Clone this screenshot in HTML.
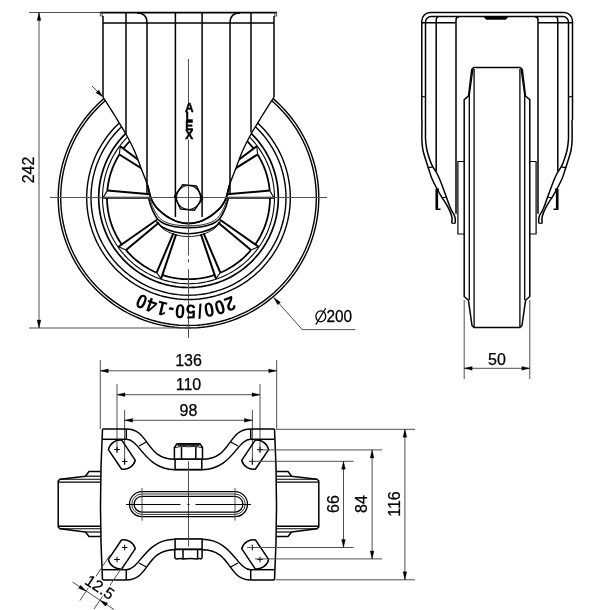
<!DOCTYPE html>
<html><head><meta charset="utf-8"><style>
html,body{margin:0;padding:0;background:#fff;}
svg{display:block;font-family:"Liberation Sans",sans-serif;will-change:transform;}
</style></head><body>
<svg width="600" height="610" viewBox="0 0 600 610">
<rect width="600" height="610" fill="#fff"/>
<defs><mask id="mk" maskUnits="userSpaceOnUse" x="0" y="0" width="600" height="610"><rect x="0" y="0" width="600" height="610" fill="#fff"/><polygon points="103,0 274,0 274,97 262,116 250.5,135 242.5,151 236,168 229.5,185 225.9,198.5 221,207 214.4,213.2 207,218.3 199,221.8 188.5,223.5 178,221.8 170,218.3 162.6,213.2 156,207 151.1,198.5 147.5,185 141,168 134.5,151 126.5,135 115,116 103,97" fill="#000"/></mask></defs>
<g mask="url(#mk)">
<polyline points="318.8,197.7 318.72,202.25 318.48,206.79 318.09,211.32 317.53,215.83 316.82,220.33 315.95,224.79 314.93,229.22 313.75,233.62 312.42,237.96 310.94,242.27 309.31,246.51 307.53,250.7 305.61,254.82 303.55,258.87 301.34,262.85 299,266.75 296.52,270.56 293.91,274.29 291.18,277.92 288.32,281.46 285.33,284.89 282.23,288.21 279.01,291.43 275.69,294.53 272.26,297.52 268.72,300.38 265.09,303.11 261.36,305.72 257.55,308.2 253.65,310.54 249.67,312.75 245.62,314.81 241.5,316.73 237.31,318.51 233.07,320.14 228.76,321.62 224.42,322.95 220.02,324.13 215.59,325.15 211.13,326.02 206.63,326.73 202.12,327.29 197.59,327.68 193.05,327.92 188.5,328 183.95,327.92 179.41,327.68 174.88,327.29 170.37,326.73 165.87,326.02 161.41,325.15 156.98,324.13 152.58,322.95 148.24,321.62 143.93,320.14 139.69,318.51 135.5,316.73 131.38,314.81 127.33,312.75 123.35,310.54 119.45,308.2 115.64,305.72 111.91,303.11 108.28,300.38 104.74,297.52 101.31,294.53 97.99,291.43 94.77,288.21 91.67,284.89 88.68,281.46 85.82,277.92 83.09,274.29 80.48,270.56 78,266.75 75.66,262.85 73.45,258.87 71.39,254.82 69.47,250.7 67.69,246.51 66.06,242.27 64.58,237.96 63.25,233.62 62.07,229.22 61.05,224.79 60.18,220.33 59.47,215.83 58.91,211.32 58.52,206.79 58.28,202.25 58.2,197.7 58.28,193.15 58.52,188.61 58.91,184.08 59.47,179.57 60.18,175.07 61.05,170.61 62.07,166.18 63.25,161.78 64.58,157.44 66.06,153.13 67.69,148.89 69.47,144.7 71.39,140.58 73.45,136.53 75.66,132.55 78,128.65 80.48,124.84 83.09,121.11 85.82,117.48 88.68,113.94 91.67,110.51 94.77,107.19 97.99,103.97 101.31,100.87 104.74,97.88 108.28,95.02 111.91,92.29 115.64,89.68 119.45,87.2 123.35,84.86 127.33,82.65 131.38,80.59 135.5,78.67 139.69,76.89 143.93,75.26 148.24,73.78 152.58,72.45 156.98,71.27 161.41,70.25 165.87,69.38 170.37,68.67 174.88,68.11 179.41,67.72 183.95,67.48 188.5,67.4 193.05,67.48 197.59,67.72 202.12,68.11 206.63,68.67 211.13,69.38 215.59,70.25 220.02,71.27 224.42,72.45 228.76,73.78 233.07,75.26 237.31,76.89 241.5,78.67 245.62,80.59 249.67,82.65 253.65,84.86 257.55,87.2 261.36,89.68 265.09,92.29 268.72,95.02 272.26,97.88 275.69,100.87 279.01,103.97 282.23,107.19 285.33,110.51 288.32,113.94 291.18,117.48 293.91,121.11 296.52,124.84 299,128.65 301.34,132.55 303.55,136.53 305.61,140.58 307.53,144.7 309.31,148.89 310.94,153.13 312.42,157.44 313.75,161.78 314.93,166.18 315.95,170.61 316.82,175.07 317.53,179.57 318.09,184.08 318.48,188.61 318.72,193.15 318.8,197.7" fill="none" stroke="#000" stroke-width="1.4" stroke-linejoin="round" />
<polyline points="316.3,197.7 316.22,202.16 315.99,206.61 315.6,211.06 315.06,215.49 314.36,219.89 313.51,224.27 312.5,228.62 311.35,232.93 310.05,237.19 308.59,241.41 306.99,245.57 305.25,249.68 303.37,253.72 301.34,257.7 299.18,261.6 296.88,265.42 294.45,269.16 291.89,272.82 289.21,276.38 286.4,279.85 283.47,283.21 280.43,286.48 277.28,289.63 274.01,292.67 270.65,295.6 267.18,298.41 263.62,301.09 259.96,303.65 256.22,306.08 252.4,308.38 248.5,310.54 244.52,312.57 240.48,314.45 236.37,316.19 232.21,317.79 227.99,319.25 223.73,320.55 219.42,321.7 215.07,322.71 210.69,323.56 206.29,324.26 201.86,324.8 197.41,325.19 192.96,325.42 188.5,325.5 184.04,325.42 179.59,325.19 175.14,324.8 170.71,324.26 166.31,323.56 161.93,322.71 157.58,321.7 153.27,320.55 149.01,319.25 144.79,317.79 140.63,316.19 136.52,314.45 132.48,312.57 128.5,310.54 124.6,308.38 120.78,306.08 117.04,303.65 113.38,301.09 109.82,298.41 106.35,295.6 102.99,292.67 99.72,289.63 96.57,286.48 93.53,283.21 90.6,279.85 87.79,276.38 85.11,272.82 82.55,269.16 80.12,265.42 77.82,261.6 75.66,257.7 73.63,253.72 71.75,249.68 70.01,245.57 68.41,241.41 66.95,237.19 65.65,232.93 64.5,228.62 63.49,224.27 62.64,219.89 61.94,215.49 61.4,211.06 61.01,206.61 60.78,202.16 60.7,197.7 60.78,193.24 61.01,188.79 61.4,184.34 61.94,179.91 62.64,175.51 63.49,171.13 64.5,166.78 65.65,162.47 66.95,158.21 68.41,153.99 70.01,149.83 71.75,145.72 73.63,141.68 75.66,137.7 77.82,133.8 80.12,129.98 82.55,126.24 85.11,122.58 87.79,119.02 90.6,115.55 93.53,112.19 96.57,108.92 99.72,105.77 102.99,102.73 106.35,99.8 109.82,96.99 113.38,94.31 117.04,91.75 120.78,89.32 124.6,87.02 128.5,84.86 132.48,82.83 136.52,80.95 140.63,79.21 144.79,77.61 149.01,76.15 153.27,74.85 157.58,73.7 161.93,72.69 166.31,71.84 170.71,71.14 175.14,70.6 179.59,70.21 184.04,69.98 188.5,69.9 192.96,69.98 197.41,70.21 201.86,70.6 206.29,71.14 210.69,71.84 215.07,72.69 219.42,73.7 223.73,74.85 227.99,76.15 232.21,77.61 236.37,79.21 240.48,80.95 244.52,82.83 248.5,84.86 252.4,87.02 256.22,89.32 259.96,91.75 263.62,94.31 267.18,96.99 270.65,99.8 274.01,102.73 277.28,105.77 280.43,108.92 283.47,112.19 286.4,115.55 289.21,119.02 291.89,122.58 294.45,126.24 296.88,129.98 299.18,133.8 301.34,137.7 303.37,141.68 305.25,145.72 306.99,149.83 308.59,153.99 310.05,158.21 311.35,162.47 312.5,166.78 313.51,171.13 314.36,175.51 315.06,179.91 315.6,184.34 315.99,188.79 316.22,193.24 316.3,197.7" fill="none" stroke="#000" stroke-width="1.4" stroke-linejoin="round" />
<polyline points="290.3,197.7 290.24,201.25 290.05,204.8 289.74,208.34 289.31,211.87 288.75,215.38 288.08,218.87 287.28,222.33 286.36,225.76 285.32,229.16 284.16,232.52 282.89,235.83 281.5,239.11 280,242.33 278.38,245.49 276.66,248.6 274.83,251.65 272.9,254.63 270.86,257.54 268.72,260.37 266.48,263.14 264.15,265.82 261.73,268.42 259.22,270.93 256.62,273.35 253.94,275.68 251.17,277.92 248.34,280.06 245.43,282.1 242.45,284.03 239.4,285.86 236.29,287.58 233.13,289.2 229.91,290.7 226.63,292.09 223.32,293.36 219.96,294.52 216.56,295.56 213.13,296.48 209.67,297.28 206.18,297.95 202.67,298.51 199.14,298.94 195.6,299.25 192.05,299.44 188.5,299.5 184.95,299.44 181.4,299.25 177.86,298.94 174.33,298.51 170.82,297.95 167.33,297.28 163.87,296.48 160.44,295.56 157.04,294.52 153.68,293.36 150.37,292.09 147.09,290.7 143.87,289.2 140.71,287.58 137.6,285.86 134.55,284.03 131.57,282.1 128.66,280.06 125.83,277.92 123.06,275.68 120.38,273.35 117.78,270.93 115.27,268.42 112.85,265.82 110.52,263.14 108.28,260.37 106.14,257.54 104.1,254.63 102.17,251.65 100.34,248.6 98.62,245.49 97,242.33 95.5,239.11 94.11,235.83 92.84,232.52 91.68,229.16 90.64,225.76 89.72,222.33 88.92,218.87 88.25,215.38 87.69,211.87 87.26,208.34 86.95,204.8 86.76,201.25 86.7,197.7 86.76,194.15 86.95,190.6 87.26,187.06 87.69,183.53 88.25,180.02 88.92,176.53 89.72,173.07 90.64,169.64 91.68,166.24 92.84,162.88 94.11,159.57 95.5,156.29 97,153.07 98.62,149.91 100.34,146.8 102.17,143.75 104.1,140.77 106.14,137.86 108.28,135.03 110.52,132.26 112.85,129.58 115.27,126.98 117.78,124.47 120.38,122.05 123.06,119.72 125.83,117.48 128.66,115.34 131.57,113.3 134.55,111.37 137.6,109.54 140.71,107.82 143.87,106.2 147.09,104.7 150.37,103.31 153.68,102.04 157.04,100.88 160.44,99.84 163.87,98.92 167.33,98.12 170.82,97.45 174.33,96.89 177.86,96.46 181.4,96.15 184.95,95.96 188.5,95.9 192.05,95.96 195.6,96.15 199.14,96.46 202.67,96.89 206.18,97.45 209.67,98.12 213.13,98.92 216.56,99.84 219.96,100.88 223.32,102.04 226.63,103.31 229.91,104.7 233.13,106.2 236.29,107.82 239.4,109.54 242.45,111.37 245.43,113.3 248.34,115.34 251.17,117.48 253.94,119.72 256.62,122.05 259.22,124.47 261.73,126.98 264.15,129.58 266.48,132.26 268.72,135.03 270.86,137.86 272.9,140.77 274.83,143.75 276.66,146.8 278.38,149.91 280,153.07 281.5,156.29 282.89,159.57 284.16,162.88 285.32,166.24 286.36,169.64 287.28,173.07 288.08,176.53 288.75,180.02 289.31,183.53 289.74,187.06 290.05,190.6 290.24,194.15 290.3,197.7" fill="none" stroke="#000" stroke-width="1.4" stroke-linejoin="round" />
<polyline points="286,197.7 285.94,201.1 285.76,204.5 285.47,207.89 285.05,211.27 284.52,214.63 283.87,217.97 283.1,221.29 282.22,224.57 281.23,227.83 280.12,231.05 278.9,234.22 277.57,237.36 276.13,240.44 274.59,243.47 272.94,246.45 271.18,249.37 269.33,252.22 267.38,255.01 265.33,257.73 263.19,260.37 260.96,262.94 258.64,265.43 256.23,267.84 253.74,270.16 251.17,272.39 248.53,274.53 245.81,276.58 243.02,278.53 240.17,280.38 237.25,282.14 234.27,283.79 231.24,285.33 228.16,286.77 225.02,288.1 221.85,289.32 218.63,290.43 215.37,291.42 212.09,292.3 208.77,293.07 205.43,293.72 202.07,294.25 198.69,294.67 195.3,294.96 191.9,295.14 188.5,295.2 185.1,295.14 181.7,294.96 178.31,294.67 174.93,294.25 171.57,293.72 168.23,293.07 164.91,292.3 161.63,291.42 158.37,290.43 155.15,289.32 151.98,288.1 148.84,286.77 145.76,285.33 142.73,283.79 139.75,282.14 136.83,280.38 133.98,278.53 131.19,276.58 128.47,274.53 125.83,272.39 123.26,270.16 120.77,267.84 118.36,265.43 116.04,262.94 113.81,260.37 111.67,257.73 109.62,255.01 107.67,252.22 105.82,249.37 104.06,246.45 102.41,243.47 100.87,240.44 99.43,237.36 98.1,234.22 96.88,231.05 95.77,227.83 94.78,224.57 93.9,221.29 93.13,217.97 92.48,214.63 91.95,211.27 91.53,207.89 91.24,204.5 91.06,201.1 91,197.7 91.06,194.3 91.24,190.9 91.53,187.51 91.95,184.13 92.48,180.77 93.13,177.43 93.9,174.11 94.78,170.83 95.77,167.57 96.88,164.35 98.1,161.18 99.43,158.04 100.87,154.96 102.41,151.93 104.06,148.95 105.82,146.03 107.67,143.18 109.62,140.39 111.67,137.67 113.81,135.03 116.04,132.46 118.36,129.97 120.77,127.56 123.26,125.24 125.83,123.01 128.47,120.87 131.19,118.82 133.98,116.87 136.83,115.02 139.75,113.26 142.73,111.61 145.76,110.07 148.84,108.63 151.98,107.3 155.15,106.08 158.37,104.97 161.63,103.98 164.91,103.1 168.23,102.33 171.57,101.68 174.93,101.15 178.31,100.73 181.7,100.44 185.1,100.26 188.5,100.2 191.9,100.26 195.3,100.44 198.69,100.73 202.07,101.15 205.43,101.68 208.77,102.33 212.09,103.1 215.37,103.98 218.63,104.97 221.85,106.08 225.02,107.3 228.16,108.63 231.24,110.07 234.27,111.61 237.25,113.26 240.17,115.02 243.02,116.87 245.81,118.82 248.53,120.87 251.17,123.01 253.74,125.24 256.23,127.56 258.64,129.97 260.96,132.46 263.19,135.03 265.33,137.67 267.38,140.39 269.33,143.18 271.18,146.03 272.94,148.95 274.59,151.93 276.13,154.96 277.57,158.04 278.9,161.18 280.12,164.35 281.23,167.57 282.22,170.83 283.1,174.11 283.87,177.43 284.52,180.77 285.05,184.13 285.47,187.51 285.76,190.9 285.94,194.3 286,197.7" fill="none" stroke="#000" stroke-width="1.4" stroke-linejoin="round" />
<polyline points="278.3,197.7 278.25,200.83 278.08,203.96 277.81,207.09 277.43,210.2 276.94,213.29 276.34,216.37 275.63,219.42 274.82,222.45 273.9,225.45 272.88,228.41 271.76,231.34 270.54,234.22 269.21,237.07 267.79,239.86 266.27,242.6 264.65,245.29 262.95,247.92 261.15,250.48 259.26,252.99 257.29,255.42 255.23,257.79 253.1,260.08 250.88,262.3 248.59,264.43 246.22,266.49 243.79,268.46 241.28,270.35 238.72,272.15 236.09,273.85 233.4,275.47 230.66,276.99 227.87,278.41 225.02,279.74 222.14,280.96 219.21,282.08 216.25,283.1 213.25,284.02 210.22,284.83 207.17,285.54 204.09,286.14 201,286.63 197.89,287.01 194.76,287.28 191.63,287.45 188.5,287.5 185.37,287.45 182.24,287.28 179.11,287.01 176,286.63 172.91,286.14 169.83,285.54 166.78,284.83 163.75,284.02 160.75,283.1 157.79,282.08 154.86,280.96 151.98,279.74 149.13,278.41 146.34,276.99 143.6,275.47 140.91,273.85 138.28,272.15 135.72,270.35 133.21,268.46 130.78,266.49 128.41,264.43 126.12,262.3 123.9,260.08 121.77,257.79 119.71,255.42 117.74,252.99 115.85,250.48 114.05,247.92 112.35,245.29 110.73,242.6 109.21,239.86 107.79,237.07 106.46,234.22 105.24,231.34 104.12,228.41 103.1,225.45 102.18,222.45 101.37,219.42 100.66,216.37 100.06,213.29 99.57,210.2 99.19,207.09 98.92,203.96 98.75,200.83 98.7,197.7 98.75,194.57 98.92,191.44 99.19,188.31 99.57,185.2 100.06,182.11 100.66,179.03 101.37,175.98 102.18,172.95 103.1,169.95 104.12,166.99 105.24,164.06 106.46,161.18 107.79,158.33 109.21,155.54 110.73,152.8 112.35,150.11 114.05,147.48 115.85,144.92 117.74,142.41 119.71,139.98 121.77,137.61 123.9,135.32 126.12,133.1 128.41,130.97 130.78,128.91 133.21,126.94 135.72,125.05 138.28,123.25 140.91,121.55 143.6,119.93 146.34,118.41 149.13,116.99 151.98,115.66 154.86,114.44 157.79,113.32 160.75,112.3 163.75,111.38 166.78,110.57 169.83,109.86 172.91,109.26 176,108.77 179.11,108.39 182.24,108.12 185.37,107.95 188.5,107.9 191.63,107.95 194.76,108.12 197.89,108.39 201,108.77 204.09,109.26 207.17,109.86 210.22,110.57 213.25,111.38 216.25,112.3 219.21,113.32 222.14,114.44 225.02,115.66 227.87,116.99 230.66,118.41 233.4,119.93 236.09,121.55 238.72,123.25 241.28,125.05 243.79,126.94 246.22,128.91 248.59,130.97 250.88,133.1 253.1,135.32 255.23,137.61 257.29,139.98 259.26,142.41 261.15,144.92 262.95,147.48 264.65,150.11 266.27,152.8 267.79,155.54 269.21,158.33 270.54,161.18 271.76,164.06 272.88,166.99 273.9,169.95 274.82,172.95 275.63,175.98 276.34,179.03 276.94,182.11 277.43,185.2 277.81,188.31 278.08,191.44 278.25,194.57 278.3,197.7" fill="none" stroke="#000" stroke-width="1.7" stroke-linejoin="round" />
<polyline points="274.5,197.7 274.45,200.7 274.29,203.7 274.03,206.69 273.66,209.67 273.19,212.63 272.62,215.58 271.95,218.51 271.17,221.4 270.29,224.28 269.31,227.11 268.24,229.92 267.06,232.68 265.8,235.4 264.43,238.07 262.98,240.7 261.43,243.27 259.8,245.79 258.08,248.25 256.27,250.65 254.38,252.98 252.41,255.25 250.36,257.44 248.24,259.56 246.05,261.61 243.78,263.58 241.45,265.47 239.05,267.28 236.59,269 234.07,270.63 231.5,272.18 228.87,273.63 226.2,275 223.48,276.26 220.72,277.44 217.91,278.51 215.08,279.49 212.2,280.37 209.31,281.15 206.38,281.82 203.43,282.39 200.47,282.86 197.49,283.23 194.5,283.49 191.5,283.65 188.5,283.7 185.5,283.65 182.5,283.49 179.51,283.23 176.53,282.86 173.57,282.39 170.62,281.82 167.69,281.15 164.8,280.37 161.92,279.49 159.09,278.51 156.28,277.44 153.52,276.26 150.8,275 148.13,273.63 145.5,272.18 142.93,270.63 140.41,269 137.95,267.28 135.55,265.47 133.22,263.58 130.95,261.61 128.76,259.56 126.64,257.44 124.59,255.25 122.62,252.98 120.73,250.65 118.92,248.25 117.2,245.79 115.57,243.27 114.02,240.7 112.57,238.07 111.2,235.4 109.94,232.68 108.76,229.92 107.69,227.11 106.71,224.28 105.83,221.4 105.05,218.51 104.38,215.58 103.81,212.63 103.34,209.67 102.97,206.69 102.71,203.7 102.55,200.7 102.5,197.7 102.55,194.7 102.71,191.7 102.97,188.71 103.34,185.73 103.81,182.77 104.38,179.82 105.05,176.89 105.83,174 106.71,171.12 107.69,168.29 108.76,165.48 109.94,162.72 111.2,160 112.57,157.33 114.02,154.7 115.57,152.13 117.2,149.61 118.92,147.15 120.73,144.75 122.62,142.42 124.59,140.15 126.64,137.96 128.76,135.84 130.95,133.79 133.22,131.82 135.55,129.93 137.95,128.12 140.41,126.4 142.93,124.77 145.5,123.22 148.13,121.77 150.8,120.4 153.52,119.14 156.28,117.96 159.09,116.89 161.92,115.91 164.8,115.03 167.69,114.25 170.62,113.58 173.57,113.01 176.53,112.54 179.51,112.17 182.5,111.91 185.5,111.75 188.5,111.7 191.5,111.75 194.5,111.91 197.49,112.17 200.47,112.54 203.43,113.01 206.38,113.58 209.31,114.25 212.2,115.03 215.08,115.91 217.91,116.89 220.72,117.96 223.48,119.14 226.2,120.4 228.87,121.77 231.5,123.22 234.07,124.77 236.59,126.4 239.05,128.12 241.45,129.93 243.78,131.82 246.05,133.79 248.24,135.84 250.36,137.96 252.41,140.15 254.38,142.42 256.27,144.75 258.08,147.15 259.8,149.61 261.43,152.13 262.98,154.7 264.43,157.33 265.8,160 267.06,162.72 268.24,165.48 269.31,168.29 270.29,171.12 271.17,174 271.95,176.89 272.62,179.82 273.19,182.77 273.66,185.73 274.03,188.71 274.29,191.7 274.45,194.7 274.5,197.7" fill="none" stroke="#000" stroke-width="1.1" stroke-linejoin="round" />
<line x1="176.16" y1="234.17" x2="161.09" y2="278.69" stroke="#000" stroke-width="2.0" />
<line x1="173.46" y1="233.14" x2="156.66" y2="272.72" stroke="#000" stroke-width="2.0" />
<line x1="161.09" y1="278.69" x2="156.66" y2="272.72" stroke="#000" stroke-width="1.1" />
<line x1="159.01" y1="222.45" x2="126.07" y2="250.09" stroke="#000" stroke-width="2.0" />
<line x1="156.96" y1="219.78" x2="118.46" y2="246.74" stroke="#000" stroke-width="2.0" />
<line x1="126.07" y1="250.09" x2="118.46" y2="246.74" stroke="#000" stroke-width="1.1" />
<line x1="150" y1="197.7" x2="103" y2="197.7" stroke="#000" stroke-width="2.0" />
<line x1="150.15" y1="194.34" x2="107.31" y2="190.6" stroke="#000" stroke-width="2.0" />
<line x1="103" y1="197.7" x2="107.31" y2="190.6" stroke="#000" stroke-width="1.1" />
<line x1="155.85" y1="177.3" x2="119.38" y2="154.51" stroke="#000" stroke-width="2.0" />
<line x1="157.75" y1="174.53" x2="120.22" y2="146.24" stroke="#000" stroke-width="2.0" />
<line x1="119.38" y1="154.51" x2="120.22" y2="146.24" stroke="#000" stroke-width="1.1" />
<line x1="203.54" y1="233.14" x2="220.34" y2="272.72" stroke="#000" stroke-width="2.0" />
<line x1="200.84" y1="234.17" x2="215.91" y2="278.69" stroke="#000" stroke-width="2.0" />
<line x1="220.34" y1="272.72" x2="215.91" y2="278.69" stroke="#000" stroke-width="1.1" />
<line x1="220.04" y1="219.78" x2="258.54" y2="246.74" stroke="#000" stroke-width="2.0" />
<line x1="217.99" y1="222.45" x2="250.93" y2="250.09" stroke="#000" stroke-width="2.0" />
<line x1="258.54" y1="246.74" x2="250.93" y2="250.09" stroke="#000" stroke-width="1.1" />
<line x1="226.85" y1="194.34" x2="269.69" y2="190.6" stroke="#000" stroke-width="2.0" />
<line x1="227" y1="197.7" x2="274" y2="197.7" stroke="#000" stroke-width="2.0" />
<line x1="269.69" y1="190.6" x2="274" y2="197.7" stroke="#000" stroke-width="1.1" />
<line x1="219.25" y1="174.53" x2="256.78" y2="146.24" stroke="#000" stroke-width="2.0" />
<line x1="221.15" y1="177.3" x2="257.62" y2="154.51" stroke="#000" stroke-width="2.0" />
<line x1="256.78" y1="146.24" x2="257.62" y2="154.51" stroke="#000" stroke-width="1.1" />
<polyline points="257.62,154.51 259.14,157.04 260.56,159.63 261.9,162.27 263.13,164.95 264.27,167.68 265.31,170.44 266.24,173.24 267.08,176.08 267.81,178.94 268.44,181.83 268.96,184.73 269.38,187.66 269.69,190.6" fill="none" stroke="#000" stroke-width="1.8" stroke-linejoin="round" />
<polyline points="270,197.7 269.95,200.63 269.79,203.55 269.53,206.47 269.16,209.37 268.69,212.26 268.11,215.14 267.44,217.98 266.66,220.81 265.78,223.6 264.79,226.36 263.72,229.08 262.54,231.76 261.27,234.4 259.9,236.99 258.45,239.53 256.9,242.02 255.26,244.45" fill="none" stroke="#000" stroke-width="1.8" stroke-linejoin="round" />
<polyline points="250.93,250.09 248.99,252.32 246.97,254.47 244.88,256.55 242.71,258.56 240.47,260.48 238.16,262.32 235.78,264.08 233.35,265.75 230.85,267.33 228.3,268.82 225.7,270.22 223.04,271.52 220.34,272.72" fill="none" stroke="#000" stroke-width="1.8" stroke-linejoin="round" />
<polyline points="214.63,274.9 211.81,275.79 208.97,276.59 206.09,277.28 203.2,277.86 200.28,278.34 197.35,278.72 194.41,278.99 191.45,279.15 188.5,279.2 185.55,279.15 182.59,278.99 179.65,278.72 176.72,278.34 173.8,277.86 170.91,277.28 168.03,276.59 165.19,275.79 162.37,274.9" fill="none" stroke="#000" stroke-width="1.8" stroke-linejoin="round" />
<polyline points="156.66,272.72 153.96,271.52 151.3,270.22 148.7,268.82 146.15,267.33 143.65,265.75 141.22,264.08 138.84,262.32 136.53,260.48 134.29,258.56 132.12,256.55 130.03,254.47 128.01,252.32 126.07,250.09" fill="none" stroke="#000" stroke-width="1.8" stroke-linejoin="round" />
<polyline points="121.74,244.45 120.1,242.02 118.55,239.53 117.1,236.99 115.73,234.4 114.46,231.76 113.28,229.08 112.21,226.36 111.22,223.6 110.34,220.81 109.56,217.98 108.89,215.14 108.31,212.26 107.84,209.37 107.47,206.47 107.21,203.55 107.05,200.63 107,197.7" fill="none" stroke="#000" stroke-width="1.8" stroke-linejoin="round" />
<polyline points="107.31,190.6 107.62,187.66 108.04,184.73 108.56,181.83 109.19,178.94 109.92,176.08 110.76,173.24 111.69,170.44 112.73,167.68 113.87,164.95 115.1,162.27 116.44,159.63 117.86,157.04 119.38,154.51" fill="none" stroke="#000" stroke-width="1.8" stroke-linejoin="round" />
<polyline points="123.41,148.65 125.16,146.41 126.99,144.23 128.89,142.12 130.87,140.07 132.92,138.09 135.03,136.19 137.21,134.36 139.45,132.61 141.75,130.94 144.11,129.35 146.52,127.84 148.99,126.42 151.5,125.08 154.06,123.84 156.66,122.68 159.29,121.61 161.97,120.64 164.67,119.76 167.41,118.98 170.17,118.29 172.95,117.7 175.75,117.2 178.57,116.81 181.4,116.51 184.23,116.31 187.08,116.21 189.92,116.21 192.77,116.31 195.6,116.51 198.43,116.81 201.25,117.2 204.05,117.7 206.83,118.29 209.59,118.98 212.33,119.76 215.03,120.64 217.71,121.61 220.34,122.68 222.94,123.84 225.5,125.08 228.01,126.42 230.48,127.84 232.89,129.35 235.25,130.94 237.55,132.61 239.79,134.36 241.97,136.19 244.08,138.09 246.13,140.07 248.11,142.12 250.01,144.23 251.84,146.41 253.59,148.65" fill="none" stroke="#000" stroke-width="1.8" stroke-linejoin="round" />
</g>
<path d="M103,97 C105,100.17 111.08,109.67 115,116 C118.92,122.33 123.25,129.17 126.5,135 C129.75,140.83 132.08,145.5 134.5,151 C136.92,156.5 138.83,162.33 141,168 C143.17,173.67 145.82,179.92 147.5,185 C149.18,190.08 149.68,194.83 151.1,198.5 C152.52,202.17 154.08,204.55 156,207 C157.92,209.45 160.27,211.32 162.6,213.2 C164.93,215.08 167.43,216.87 170,218.3 C172.57,219.73 174.92,220.93 178,221.8 C181.08,222.67 185,223.5 188.5,223.5 C192,223.5 195.92,222.67 199,221.8 C202.08,220.93 204.43,219.73 207,218.3 C209.57,216.87 212.07,215.08 214.4,213.2 C216.73,211.32 219.08,209.45 221,207 C222.92,204.55 224.48,202.17 225.9,198.5 C227.32,194.83 227.82,190.08 229.5,185 C231.18,179.92 233.83,173.67 236,168 C238.17,162.33 240.08,156.5 242.5,151 C244.92,145.5 247.25,140.83 250.5,135 C253.75,129.17 258.08,122.33 262,116 C265.92,109.67 272,100.17 274,97" fill="none" stroke="#000" stroke-width="1.35" stroke-linejoin="round" />
<path d="M147.5,185 C148.1,187.25 149.68,194.83 151.1,198.5 C152.52,202.17 154.08,204.55 156,207 C157.92,209.45 160.27,211.32 162.6,213.2 C164.93,215.08 167.43,216.87 170,218.3 C172.57,219.73 174.92,220.93 178,221.8 C181.08,222.67 185,223.5 188.5,223.5 C192,223.5 195.92,222.67 199,221.8 C202.08,220.93 204.43,219.73 207,218.3 C209.57,216.87 212.07,215.08 214.4,213.2 C216.73,211.32 219.08,209.45 221,207 C222.92,204.55 224.48,202.17 225.9,198.5 C227.32,194.83 228.9,187.25 229.5,185" fill="none" stroke="#000" stroke-width="1.8" stroke-linejoin="round" />
<path d="M148.7,198.5 C149.1,199.87 150.15,204.12 151.1,206.7 C152.05,209.28 153.25,211.87 154.4,214 C155.55,216.13 156.23,217.83 158,219.5 C159.77,221.17 162.17,222.8 165,224 C167.83,225.2 171.08,226.1 175,226.7 C178.92,227.3 184,227.6 188.5,227.6 C193,227.6 198.08,227.3 202,226.7 C205.92,226.1 209.17,225.2 212,224 C214.83,222.8 217.23,221.17 219,219.5 C220.77,217.83 221.45,216.13 222.6,214 C223.75,211.87 224.95,209.28 225.9,206.7 C226.85,204.12 227.9,199.87 228.3,198.5" fill="none" stroke="#000" stroke-width="1.6" stroke-linejoin="round" />
<path d="M150.2,199.5 C150.6,200.67 151.65,204.25 152.6,206.5 C153.55,208.75 154.75,211.08 155.9,213 C157.05,214.92 157.82,216.45 159.5,218 C161.18,219.55 163.25,221.13 166,222.3 C168.75,223.47 172.25,224.42 176,225 C179.75,225.58 184.33,225.8 188.5,225.8 C192.67,225.8 197.25,225.58 201,225 C204.75,224.42 208.25,223.47 211,222.3 C213.75,221.13 215.82,219.55 217.5,218 C219.18,216.45 219.95,214.92 221.1,213 C222.25,211.08 223.45,208.75 224.4,206.5 C225.35,204.25 226.4,200.67 226.8,199.5" fill="none" stroke="#000" stroke-width="0.8" stroke-linejoin="round" />
<path d="M156.5,221.5 C157.58,222.5 159.92,225.75 163,227.5 C166.08,229.25 170.75,230.97 175,232 C179.25,233.03 184,233.7 188.5,233.7 C193,233.7 197.75,233.03 202,232 C206.25,230.97 210.92,229.25 214,227.5 C217.08,225.75 219.42,222.5 220.5,221.5" fill="none" stroke="#000" stroke-width="1.6" stroke-linejoin="round" />
<path d="M158.5,224.5 C159.58,225.45 162.08,228.47 165,230.2 C167.92,231.93 172.08,233.83 176,234.9 C179.92,235.97 184.33,236.6 188.5,236.6 C192.67,236.6 197.08,235.97 201,234.9 C204.92,233.83 209.08,231.93 212,230.2 C214.92,228.47 217.42,225.45 218.5,224.5" fill="none" stroke="#000" stroke-width="0.9" stroke-linejoin="round" />
<line x1="100" y1="12.6" x2="277" y2="12.6" stroke="#000" stroke-width="1.6" />
<polyline points="100.3,12.6 100.3,16 102.3,16 102.3,12.6" fill="none" stroke="#505050" stroke-width="1" stroke-linejoin="round" />
<polyline points="276.7,12.6 276.7,16 274.7,16 274.7,12.6" fill="none" stroke="#505050" stroke-width="1" stroke-linejoin="round" />
<line x1="103" y1="16" x2="103" y2="97" stroke="#000" stroke-width="1.5" />
<line x1="274" y1="16" x2="274" y2="97" stroke="#000" stroke-width="1.5" />
<line x1="103" y1="23" x2="274" y2="23" stroke="#000" stroke-width="1.5" />
<line x1="126" y1="13" x2="126" y2="134" stroke="#000" stroke-width="1.5" />
<line x1="251" y1="13" x2="251" y2="132.5" stroke="#000" stroke-width="1.5" />
<path d="M137,13 Q147,13 147,23 L147,193" fill="none" stroke="#000" stroke-width="1.5" stroke-linejoin="round" />
<path d="M240,13 Q230,13 230,23 L230,193" fill="none" stroke="#000" stroke-width="1.5" stroke-linejoin="round" />
<line x1="175.4" y1="13" x2="175.4" y2="217" stroke="#000" stroke-width="1.5" />
<line x1="202.1" y1="13" x2="202.1" y2="217" stroke="#000" stroke-width="1.5" />
<line x1="92" y1="86" x2="103" y2="97" stroke="#505050" stroke-width="1.0" />
<polygon points="103,97 95.93,92.76 98.76,89.93" fill="#000" stroke="#000" stroke-width="0.3" stroke-linejoin="round" />
<line x1="50" y1="197.5" x2="327" y2="197.5" stroke="#505050" stroke-width="1.0" />
<line x1="188.5" y1="59" x2="188.5" y2="103" stroke="#505050" stroke-width="1.0" />
<line x1="188.5" y1="139.5" x2="188.5" y2="255.5" stroke="#505050" stroke-width="1.0" />
<line x1="188.5" y1="259" x2="188.5" y2="262.5" stroke="#505050" stroke-width="1.0" />
<line x1="188.5" y1="269.3" x2="188.5" y2="338" stroke="#505050" stroke-width="1.0" />
<polygon points="202.45,198.72 194.42,210.19 180.47,208.97 174.55,196.28 182.58,184.81 196.53,186.03" fill="none" stroke="#000" stroke-width="1.5" stroke-linejoin="round" />
<circle cx="188.5" cy="197.5" r="12" fill="none" stroke="#000" stroke-width="1.1"/>
<text x="0" y="0" font-size="12.5" font-weight="bold" text-anchor="middle" stroke="#000" stroke-width="0.5" transform="translate(189.2,112.4) scale(0.95,1)">A</text>
<text x="0" y="0" font-size="12.5" font-weight="bold" text-anchor="middle" stroke="#000" stroke-width="0.5" transform="translate(189.2,121.4) scale(0.95,1)">L</text>
<text x="0" y="0" font-size="12.5" font-weight="bold" text-anchor="middle" stroke="#000" stroke-width="0.5" transform="translate(189.2,130.4) scale(0.95,1)">E</text>
<text x="0" y="0" font-size="12.5" font-weight="bold" text-anchor="middle" stroke="#000" stroke-width="0.5" transform="translate(189.2,139.4) scale(0.95,1)">X</text>
<line x1="29" y1="12.5" x2="100" y2="12.5" stroke="#505050" stroke-width="1.0" />
<line x1="29" y1="328" x2="190" y2="328" stroke="#505050" stroke-width="1.0" />
<line x1="39" y1="12.5" x2="39" y2="328" stroke="#505050" stroke-width="1.0" />
<polygon points="39,12.5 40.9,20.5 37.1,20.5" fill="#000" stroke="#000" stroke-width="0.3" stroke-linejoin="round" />
<polygon points="39,328 37.1,320 40.9,320" fill="#000" stroke="#000" stroke-width="0.3" stroke-linejoin="round" />
<text x="0" y="0" font-size="16" text-anchor="middle" font-weight="normal" stroke="#000" stroke-width="0.25" transform="translate(34.3,170) rotate(-90) scale(1,1)" >242</text>
<polyline points="273.75,297.5 302.2,329.6 355.3,329.6" fill="none" stroke="#505050" stroke-width="1.0" stroke-linejoin="round" />
<polygon points="273.75,297.5 280.48,302.23 277.63,304.75" fill="#000" stroke="#000" stroke-width="0.3" stroke-linejoin="round" />
<ellipse cx="320.8" cy="316.3" rx="4.9" ry="5.5" fill="none" stroke="#000" stroke-width="1.3"/>
<line x1="315.8" y1="324.6" x2="325.6" y2="308.3" stroke="#000" stroke-width="1.2" />
<text x="0" y="0" font-size="16" text-anchor="start" font-weight="normal" stroke="#000" stroke-width="0.25" transform="translate(326.5,322.1) rotate(0) scale(0.96,1)" >200</text>
<text x="0" y="0" font-size="20" font-weight="bold" text-anchor="middle" transform="translate(227.48,297.35) rotate(158.64) scale(0.9,1)">2</text>
<text x="0" y="0" font-size="20" font-weight="bold" text-anchor="middle" transform="translate(217.82,300.6) rotate(164.1) scale(0.9,1)">0</text>
<text x="0" y="0" font-size="20" font-weight="bold" text-anchor="middle" transform="translate(207.89,302.93) rotate(169.56) scale(0.9,1)">0</text>
<text x="0" y="0" font-size="20" font-weight="bold" text-anchor="middle" transform="translate(199.38,304.15) rotate(174.16) scale(0.9,1)">/</text>
<text x="0" y="0" font-size="20" font-weight="bold" text-anchor="middle" transform="translate(190.8,304.68) rotate(178.77) scale(0.9,1)">5</text>
<text x="0" y="0" font-size="20" font-weight="bold" text-anchor="middle" transform="translate(180.61,304.41) rotate(184.23) scale(0.9,1)">0</text>
<text x="0" y="0" font-size="20" font-weight="bold" text-anchor="middle" transform="translate(172.06,303.43) rotate(188.84) scale(0.9,1)">-</text>
<text x="0" y="0" font-size="20" font-weight="bold" text-anchor="middle" transform="translate(163.63,301.77) rotate(193.44) scale(0.9,1)">1</text>
<text x="0" y="0" font-size="20" font-weight="bold" text-anchor="middle" transform="translate(153.84,298.93) rotate(198.9) scale(0.9,1)">4</text>
<text x="0" y="0" font-size="20" font-weight="bold" text-anchor="middle" transform="translate(144.36,295.17) rotate(204.36) scale(0.9,1)">0</text>
<path d="M421.8,120 L421.8,21 A8.5,8.5 0 0 1 430.3,12.5 L564,12.5 A8.5,8.5 0 0 1 572.5,21 L572.5,120" fill="none" stroke="#000" stroke-width="1.5" stroke-linejoin="round" />
<path d="M425.5,96.7 L425.5,22 A5.5,5.5 0 0 1 431,16.6 L563,16.6 A5.5,5.5 0 0 1 568.5,22 L568.5,96.7" fill="none" stroke="#000" stroke-width="1.5" stroke-linejoin="round" />
<path d="M422,120 C421.98,123.33 421.75,135 421.9,140 C422.05,145 422.25,146.67 422.9,150 C423.55,153.33 424.82,156.75 425.8,160 C426.78,163.25 427.72,166.25 428.8,169.5 C429.88,172.75 430.47,175.45 432.3,179.5 C434.13,183.55 437.23,189.28 439.8,193.8 C442.37,198.32 445.7,202.82 447.7,206.6 C449.7,210.38 451.12,213.72 451.8,216.5 C452.48,219.28 451.8,222.17 451.8,223.3" fill="none" stroke="#000" stroke-width="1.5" stroke-linejoin="round" />
<path d="M572,120 C572.02,123.33 572.25,135 572.1,140 C571.95,145 571.75,146.67 571.1,150 C570.45,153.33 569.18,156.75 568.2,160 C567.22,163.25 566.28,166.25 565.2,169.5 C564.12,172.75 563.53,175.45 561.7,179.5 C559.87,183.55 556.77,189.28 554.2,193.8 C551.63,198.32 548.3,202.82 546.3,206.6 C544.3,210.38 542.88,213.72 542.2,216.5 C541.52,219.28 542.2,222.17 542.2,223.3" fill="none" stroke="#000" stroke-width="1.5" stroke-linejoin="round" />
<path d="M425.5,96.7 C425.5,102.25 425.48,122.78 425.5,130 C425.52,137.22 425.37,136.67 425.6,140 C425.83,143.33 426.2,146.72 426.9,150 C427.6,153.28 428.83,156.93 429.8,159.7 C430.77,162.47 431.58,164.47 432.7,166.6 C433.82,168.73 435.25,170.18 436.5,172.5 C437.75,174.82 438.82,177.12 440.2,180.5 C441.58,183.88 443.07,188.13 444.8,192.8 C446.53,197.47 448.93,204.57 450.6,208.5 C452.27,212.43 454.02,213.93 454.8,216.4 C455.58,218.87 455.22,222.15 455.3,223.3" fill="none" stroke="#000" stroke-width="1.5" stroke-linejoin="round" />
<path d="M568.5,96.7 C568.5,102.25 568.52,122.78 568.5,130 C568.48,137.22 568.63,136.67 568.4,140 C568.17,143.33 567.8,146.72 567.1,150 C566.4,153.28 565.17,156.93 564.2,159.7 C563.23,162.47 562.42,164.47 561.3,166.6 C560.18,168.73 558.75,170.18 557.5,172.5 C556.25,174.82 555.18,177.12 553.8,180.5 C552.42,183.88 550.93,188.13 549.2,192.8 C547.47,197.47 545.07,204.57 543.4,208.5 C541.73,212.43 539.98,213.93 539.2,216.4 C538.42,218.87 538.78,222.15 538.7,223.3" fill="none" stroke="#000" stroke-width="1.5" stroke-linejoin="round" />
<line x1="422" y1="96.7" x2="425.5" y2="96.7" stroke="#000" stroke-width="1.1" />
<line x1="572" y1="96.7" x2="568.5" y2="96.7" stroke="#000" stroke-width="1.1" />
<line x1="427.8" y1="167.6" x2="432.4" y2="167.1" stroke="#000" stroke-width="1.1" />
<line x1="566.2" y1="167.6" x2="561.6" y2="167.1" stroke="#000" stroke-width="1.1" />
<line x1="441.5" y1="197.7" x2="446.4" y2="197.2" stroke="#000" stroke-width="1.1" />
<line x1="552.5" y1="197.7" x2="547.6" y2="197.2" stroke="#000" stroke-width="1.1" />
<line x1="451.8" y1="223.3" x2="455.3" y2="223.3" stroke="#000" stroke-width="1.1" />
<line x1="542.2" y1="223.3" x2="538.7" y2="223.3" stroke="#000" stroke-width="1.1" />
<path d="M436.2,171 L436.2,21 Q436.2,16.6 438.5,16.6" fill="none" stroke="#000" stroke-width="1.5" stroke-linejoin="round" />
<path d="M557.8,171 L557.8,21 Q557.8,16.6 555.5,16.6" fill="none" stroke="#000" stroke-width="1.5" stroke-linejoin="round" />
<line x1="421.8" y1="22.7" x2="456" y2="22.7" stroke="#000" stroke-width="1.5" />
<line x1="538" y1="22.7" x2="572.5" y2="22.7" stroke="#000" stroke-width="1.5" />
<path d="M456,213.8 L456,20 Q456,16.7 459,16.7" fill="none" stroke="#000" stroke-width="1.5" stroke-linejoin="round" />
<path d="M538,213.8 L538,20 Q538,16.7 535,16.7" fill="none" stroke="#000" stroke-width="1.5" stroke-linejoin="round" />
<polygon points="484,16.6 486,19.3 506,19.3 508,16.6" fill="#000" stroke="#000" stroke-width="0.8" stroke-linejoin="round" />
<polyline points="439,189.3 436.2,189.3 436.2,209.2 440.5,209.2" fill="none" stroke="#000" stroke-width="1.5" stroke-linejoin="round" />
<line x1="437.4" y1="189.8" x2="437.4" y2="208.7" stroke="#000" stroke-width="1.4" />
<polyline points="555,189.3 557.8,189.3 557.8,209.2 553.5,209.2" fill="none" stroke="#000" stroke-width="1.5" stroke-linejoin="round" />
<line x1="556.6" y1="189.8" x2="556.6" y2="208.7" stroke="#000" stroke-width="1.4" />
<polyline points="464.2,234 457.9,234 457.9,161.5 463.8,161.5" fill="none" stroke="#000" stroke-width="1.2" stroke-linejoin="round" />
<polyline points="529.8,234 536.1,234 536.1,161.5 530.2,161.5" fill="none" stroke="#000" stroke-width="1.2" stroke-linejoin="round" />
<polygon points="464.2,296.5 464.2,99.6 468.5,96 471.7,69.5 473.7,67.5 520.3,67.5 522.3,69.5 525.5,96 529.8,99.6 529.8,296.5 525.6,300.2 522,325.5 520,327.5 474,327.5 472,325.5 468.4,300.2 464.2,296.5" fill="none" stroke="#000" stroke-width="1.5" stroke-linejoin="round" />
<polyline points="473,68.5 469.3,95 469.3,300" fill="none" stroke="#000" stroke-width="1.3" stroke-linejoin="round" />
<line x1="474.1" y1="69" x2="474.1" y2="327" stroke="#000" stroke-width="1.3" />
<polyline points="521,68.5 524.7,95 524.7,300" fill="none" stroke="#000" stroke-width="1.3" stroke-linejoin="round" />
<line x1="519.9" y1="69" x2="519.9" y2="327" stroke="#000" stroke-width="1.3" />
<line x1="464.2" y1="300" x2="464.2" y2="379" stroke="#505050" stroke-width="1.0" />
<line x1="529.8" y1="300" x2="529.8" y2="379" stroke="#505050" stroke-width="1.0" />
<line x1="464.2" y1="368.3" x2="529.8" y2="368.3" stroke="#505050" stroke-width="1.0" />
<polygon points="464.2,368.3 472.2,366.4 472.2,370.2" fill="#000" stroke="#000" stroke-width="0.3" stroke-linejoin="round" />
<polygon points="529.8,368.3 521.8,370.2 521.8,366.4" fill="#000" stroke="#000" stroke-width="0.3" stroke-linejoin="round" />
<text x="0" y="0" font-size="16" text-anchor="middle" font-weight="normal" stroke="#000" stroke-width="0.25" transform="translate(497,364.5) rotate(0) scale(1.0,1)" >50</text>
<line x1="100.3" y1="360" x2="100.3" y2="429" stroke="#505050" stroke-width="1.0" />
<line x1="276.7" y1="360" x2="276.7" y2="429" stroke="#505050" stroke-width="1.0" />
<line x1="117" y1="384" x2="117" y2="453" stroke="#505050" stroke-width="1.0" />
<line x1="260" y1="384" x2="260" y2="453" stroke="#505050" stroke-width="1.0" />
<line x1="124.6" y1="410" x2="124.6" y2="465" stroke="#505050" stroke-width="1.0" />
<line x1="252.4" y1="410" x2="252.4" y2="465" stroke="#505050" stroke-width="1.0" />
<line x1="100.3" y1="370.8" x2="276.7" y2="370.8" stroke="#505050" stroke-width="1.0" />
<polygon points="100.3,370.8 108.3,368.9 108.3,372.7" fill="#000" stroke="#000" stroke-width="0.3" stroke-linejoin="round" />
<polygon points="276.7,370.8 268.7,372.7 268.7,368.9" fill="#000" stroke="#000" stroke-width="0.3" stroke-linejoin="round" />
<line x1="117" y1="394.7" x2="260" y2="394.7" stroke="#505050" stroke-width="1.0" />
<polygon points="117,394.7 125,392.8 125,396.6" fill="#000" stroke="#000" stroke-width="0.3" stroke-linejoin="round" />
<polygon points="260,394.7 252,396.6 252,392.8" fill="#000" stroke="#000" stroke-width="0.3" stroke-linejoin="round" />
<line x1="124.6" y1="420.3" x2="252.4" y2="420.3" stroke="#505050" stroke-width="1.0" />
<polygon points="124.6,420.3 132.6,418.4 132.6,422.2" fill="#000" stroke="#000" stroke-width="0.3" stroke-linejoin="round" />
<polygon points="252.4,420.3 244.4,422.2 244.4,418.4" fill="#000" stroke="#000" stroke-width="0.3" stroke-linejoin="round" />
<text x="0" y="0" font-size="16" text-anchor="middle" font-weight="normal" stroke="#000" stroke-width="0.25" transform="translate(188.5,366.2) rotate(0) scale(1.0,1)" >136</text>
<text x="0" y="0" font-size="16" text-anchor="middle" font-weight="normal" stroke="#000" stroke-width="0.25" transform="translate(188.5,389.7) rotate(0) scale(1.0,1)" >110</text>
<text x="0" y="0" font-size="16" text-anchor="middle" font-weight="normal" stroke="#000" stroke-width="0.25" transform="translate(188.5,415.8) rotate(0) scale(1.0,1)" >98</text>
<path d="M102.5,429 Q98.5,504.5 102.5,580" fill="none" stroke="#000" stroke-width="1.5" stroke-linejoin="round" />
<path d="M274.5,429 Q278.5,504.5 274.5,580" fill="none" stroke="#000" stroke-width="1.5" stroke-linejoin="round" />
<line x1="102.5" y1="429" x2="126.3" y2="429" stroke="#000" stroke-width="1.5" />
<line x1="102.5" y1="439.3" x2="126.3" y2="439.3" stroke="#000" stroke-width="1.5" />
<line x1="126.3" y1="429" x2="126.3" y2="439.3" stroke="#000" stroke-width="1.5" />
<line x1="139" y1="446" x2="146.3" y2="442" stroke="#000" stroke-width="1.1" />
<line x1="274.5" y1="429" x2="250.7" y2="429" stroke="#000" stroke-width="1.5" />
<line x1="274.5" y1="439.3" x2="250.7" y2="439.3" stroke="#000" stroke-width="1.5" />
<line x1="250.7" y1="429" x2="250.7" y2="439.3" stroke="#000" stroke-width="1.5" />
<line x1="238" y1="446" x2="230.7" y2="442" stroke="#000" stroke-width="1.1" />
<path d="M126.3,429 C150,429 145,459.3 175,459.3 L202,459.3 C232,459.3 227,429 250.7,429" fill="none" stroke="#000" stroke-width="1.5" stroke-linejoin="round" />
<path d="M126.3,439.3 C140,439.3 145,469.7 175,469.7 L202,469.7 C232,469.7 237,439.3 250.7,439.3" fill="none" stroke="#000" stroke-width="1.5" stroke-linejoin="round" />
<line x1="102.5" y1="580" x2="126.3" y2="580" stroke="#000" stroke-width="1.5" />
<line x1="102.5" y1="569.7" x2="126.3" y2="569.7" stroke="#000" stroke-width="1.5" />
<line x1="126.3" y1="580" x2="126.3" y2="569.7" stroke="#000" stroke-width="1.5" />
<line x1="139" y1="563" x2="146.3" y2="567" stroke="#000" stroke-width="1.1" />
<line x1="274.5" y1="580" x2="250.7" y2="580" stroke="#000" stroke-width="1.5" />
<line x1="274.5" y1="569.7" x2="250.7" y2="569.7" stroke="#000" stroke-width="1.5" />
<line x1="250.7" y1="580" x2="250.7" y2="569.7" stroke="#000" stroke-width="1.5" />
<line x1="238" y1="563" x2="230.7" y2="567" stroke="#000" stroke-width="1.1" />
<path d="M126.3,580 C150,580 145,549.7 175,549.7 L202,549.7 C232,549.7 227,580 250.7,580" fill="none" stroke="#000" stroke-width="1.5" stroke-linejoin="round" />
<path d="M126.3,569.7 C140,569.7 145,539.3 175,539.3 L202,539.3 C232,539.3 237,569.7 250.7,569.7" fill="none" stroke="#000" stroke-width="1.5" stroke-linejoin="round" />
<polygon points="175.1,459 201.8,459 201.8,469.5 175.1,469.5" fill="#fff" stroke="#000" stroke-width="1.5" stroke-linejoin="round" />
<polygon points="174.4,459 174.4,447.4 177,443.8 200,443.8 202.5,447.4 202.5,459" fill="#fff" stroke="#000" stroke-width="1.5" stroke-linejoin="round" />
<line x1="177.5" y1="445" x2="199.5" y2="445" stroke="#000" stroke-width="1.6" />
<path d="M175,447.6 Q181.5,445.5 188.5,446.8 Q195.5,445.5 202,447.6" fill="none" stroke="#000" stroke-width="0.9" stroke-linejoin="round" />
<line x1="181.5" y1="447" x2="181.5" y2="459" stroke="#000" stroke-width="1.5" />
<line x1="195.8" y1="447" x2="195.8" y2="459" stroke="#000" stroke-width="1.5" />
<polygon points="175.1,539 202.1,539 202.1,549.3 175.1,549.3" fill="#fff" stroke="#000" stroke-width="1.5" stroke-linejoin="round" />
<path d="M174.8,549.5 L174.8,557.3 Q175,558.9 177,558.9 Q180,558.2 183,558.9 Q190,558 197.6,558.9 Q200,558.2 200.5,558.9 Q202.1,558.9 202.1,557.3 L202.1,549.5 Z" fill="#fff" stroke="#000" stroke-width="1.5" stroke-linejoin="round" />
<line x1="183" y1="549.5" x2="183" y2="558.7" stroke="#000" stroke-width="1.5" />
<line x1="197.6" y1="549.5" x2="197.6" y2="558.7" stroke="#000" stroke-width="1.5" />
<line x1="188.5" y1="461.3" x2="188.5" y2="546.5" stroke="#505050" stroke-width="1.0" />
<path d="M142,491.7 L235,491.7 A12.5,12.5 0 0 1 235,516.7 L142,516.7 A12.5,12.5 0 0 1 142,491.7 Z" fill="none" stroke="#000" stroke-width="1.3" stroke-linejoin="round" />
<path d="M142,494 L235,494 A10.2,10.2 0 0 1 235,514.4 L142,514.4 A10.2,10.2 0 0 1 142,494 Z" fill="none" stroke="#000" stroke-width="0.8" stroke-linejoin="round" />
<path d="M142,496.3 L235,496.3 A7.9,7.9 0 0 1 235,512.1 L142,512.1 A7.9,7.9 0 0 1 142,496.3 Z" fill="none" stroke="#000" stroke-width="1.3" stroke-linejoin="round" />
<line x1="142" y1="488" x2="142" y2="520.7" stroke="#505050" stroke-width="1.0" />
<line x1="235" y1="488" x2="235" y2="520.7" stroke="#505050" stroke-width="1.0" />
<line x1="126" y1="504.5" x2="251" y2="504.5" stroke="#000" stroke-width="1.0" stroke-dasharray="54.5,7,2,6,60"/>
<path d="M108.4,449.7 A12,12 0 0 1 121.8,440.2 L135.3,460.3 A12,12 0 0 1 121.5,469 Z" fill="none" stroke="#000" stroke-width="1.5" stroke-linejoin="round" />
<line x1="114.2" y1="449.5" x2="119.8" y2="449.5" stroke="#000" stroke-width="1.0" />
<line x1="117" y1="446.7" x2="117" y2="452.3" stroke="#000" stroke-width="1.0" />
<line x1="121.9" y1="461.5" x2="127.5" y2="461.5" stroke="#000" stroke-width="1.0" />
<line x1="124.7" y1="458.7" x2="124.7" y2="464.3" stroke="#000" stroke-width="1.0" />
<path d="M108.4,559.3 A12,12 0 0 0 121.8,568.8 L135.3,548.7 A12,12 0 0 0 121.5,540 Z" fill="none" stroke="#000" stroke-width="1.5" stroke-linejoin="round" />
<line x1="114.2" y1="559.5" x2="119.8" y2="559.5" stroke="#000" stroke-width="1.0" />
<line x1="117" y1="556.7" x2="117" y2="562.3" stroke="#000" stroke-width="1.0" />
<line x1="121.9" y1="547.5" x2="127.5" y2="547.5" stroke="#000" stroke-width="1.0" />
<line x1="124.7" y1="544.7" x2="124.7" y2="550.3" stroke="#000" stroke-width="1.0" />
<path d="M268.6,449.7 A12,12 0 0 0 255.2,440.2 L241.7,460.3 A12,12 0 0 0 255.5,469 Z" fill="none" stroke="#000" stroke-width="1.5" stroke-linejoin="round" />
<line x1="257.2" y1="449.5" x2="262.8" y2="449.5" stroke="#000" stroke-width="1.0" />
<line x1="260" y1="446.7" x2="260" y2="452.3" stroke="#000" stroke-width="1.0" />
<line x1="249.5" y1="461.5" x2="255.1" y2="461.5" stroke="#000" stroke-width="1.0" />
<line x1="252.3" y1="458.7" x2="252.3" y2="464.3" stroke="#000" stroke-width="1.0" />
<path d="M268.6,559.3 A12,12 0 0 1 255.2,568.8 L241.7,548.7 A12,12 0 0 1 255.5,540 Z" fill="none" stroke="#000" stroke-width="1.5" stroke-linejoin="round" />
<line x1="257.2" y1="559.5" x2="262.8" y2="559.5" stroke="#000" stroke-width="1.0" />
<line x1="260" y1="556.7" x2="260" y2="562.3" stroke="#000" stroke-width="1.0" />
<line x1="249.5" y1="547.5" x2="255.1" y2="547.5" stroke="#000" stroke-width="1.0" />
<line x1="252.3" y1="544.7" x2="252.3" y2="550.3" stroke="#000" stroke-width="1.0" />
<line x1="276" y1="429.3" x2="415" y2="429.3" stroke="#505050" stroke-width="1.0" />
<line x1="276" y1="579.8" x2="415" y2="579.8" stroke="#505050" stroke-width="1.0" />
<line x1="257" y1="449.9" x2="382" y2="449.9" stroke="#505050" stroke-width="1.0" />
<line x1="255" y1="558.9" x2="382" y2="558.9" stroke="#505050" stroke-width="1.0" />
<line x1="249" y1="461.3" x2="353.5" y2="461.3" stroke="#505050" stroke-width="1.0" />
<line x1="247" y1="547.5" x2="353.5" y2="547.5" stroke="#505050" stroke-width="1.0" />
<line x1="343.5" y1="461.3" x2="343.5" y2="547.5" stroke="#505050" stroke-width="1.0" />
<polygon points="343.5,461.3 345.4,469.3 341.6,469.3" fill="#000" stroke="#000" stroke-width="0.3" stroke-linejoin="round" />
<polygon points="343.5,547.5 341.6,539.5 345.4,539.5" fill="#000" stroke="#000" stroke-width="0.3" stroke-linejoin="round" />
<line x1="372.1" y1="449.9" x2="372.1" y2="558.9" stroke="#505050" stroke-width="1.0" />
<polygon points="372.1,449.9 374,457.9 370.2,457.9" fill="#000" stroke="#000" stroke-width="0.3" stroke-linejoin="round" />
<polygon points="372.1,558.9 370.2,550.9 374,550.9" fill="#000" stroke="#000" stroke-width="0.3" stroke-linejoin="round" />
<line x1="404.9" y1="429.3" x2="404.9" y2="579.8" stroke="#505050" stroke-width="1.0" />
<polygon points="404.9,429.3 406.8,437.3 403,437.3" fill="#000" stroke="#000" stroke-width="0.3" stroke-linejoin="round" />
<polygon points="404.9,579.8 403,571.8 406.8,571.8" fill="#000" stroke="#000" stroke-width="0.3" stroke-linejoin="round" />
<text x="0" y="0" font-size="16" text-anchor="middle" font-weight="normal" stroke="#000" stroke-width="0.25" transform="translate(338.5,504) rotate(-90) scale(1,1)" >66</text>
<text x="0" y="0" font-size="16" text-anchor="middle" font-weight="normal" stroke="#000" stroke-width="0.25" transform="translate(367,504) rotate(-90) scale(1,1)" >84</text>
<text x="0" y="0" font-size="16" text-anchor="middle" font-weight="normal" stroke="#000" stroke-width="0.25" transform="translate(399.5,504) rotate(-90) scale(1,1)" >116</text>
<polyline points="100.5,471.5 89,471.5 85.4,476.2 60,479.2 58.2,481 58.2,527 60,528.8 85.4,532 89,536.5 100.5,536.5" fill="none" stroke="#000" stroke-width="1.5" stroke-linejoin="round" />
<line x1="60" y1="479.3" x2="100.5" y2="479.3" stroke="#000" stroke-width="1.1" />
<line x1="60" y1="528.7" x2="100.5" y2="528.7" stroke="#000" stroke-width="1.1" />
<line x1="58.2" y1="482.1" x2="100.5" y2="482.1" stroke="#000" stroke-width="1.4" />
<line x1="58.2" y1="526.2" x2="100.5" y2="526.2" stroke="#000" stroke-width="1.4" />
<line x1="85.4" y1="476.2" x2="100.5" y2="476.2" stroke="#000" stroke-width="1.2" />
<line x1="85.4" y1="532" x2="100.5" y2="532" stroke="#000" stroke-width="1.2" />
<polyline points="276.5,471.5 288,471.5 291.6,476.2 317,479.2 318.8,481 318.8,527 317,528.8 291.6,532 288,536.5 276.5,536.5" fill="none" stroke="#000" stroke-width="1.5" stroke-linejoin="round" />
<line x1="317" y1="479.3" x2="276.5" y2="479.3" stroke="#000" stroke-width="1.1" />
<line x1="317" y1="528.7" x2="276.5" y2="528.7" stroke="#000" stroke-width="1.1" />
<line x1="318.8" y1="482.1" x2="276.5" y2="482.1" stroke="#000" stroke-width="1.4" />
<line x1="318.8" y1="526.2" x2="276.5" y2="526.2" stroke="#000" stroke-width="1.4" />
<line x1="291.6" y1="476.2" x2="276.5" y2="476.2" stroke="#000" stroke-width="1.2" />
<line x1="291.6" y1="532" x2="276.5" y2="532" stroke="#000" stroke-width="1.2" />
<line x1="110" y1="555" x2="80" y2="600.5" stroke="#505050" stroke-width="1.0" />
<line x1="125" y1="563" x2="94" y2="609" stroke="#505050" stroke-width="1.0" />
<line x1="72.5" y1="582" x2="114" y2="609.5" stroke="#505050" stroke-width="1.0" />
<polygon points="86.3,591.2 78.58,588.36 80.68,585.2" fill="#000" stroke="#000" stroke-width="0.3" stroke-linejoin="round" />
<polygon points="99.9,600.2 107.62,603.04 105.52,606.2" fill="#000" stroke="#000" stroke-width="0.3" stroke-linejoin="round" />
<text x="0" y="0" font-size="16" text-anchor="middle" fill="#fff" stroke="#fff" stroke-width="3" transform="translate(96.8,591.8) rotate(33.5)">12.5</text>
<text x="0" y="0" font-size="16" text-anchor="middle" font-weight="normal" stroke="#000" stroke-width="0.25" transform="translate(96.8,591.8) rotate(33.5) scale(1.0,1)" >12.5</text>
</svg></body></html>
